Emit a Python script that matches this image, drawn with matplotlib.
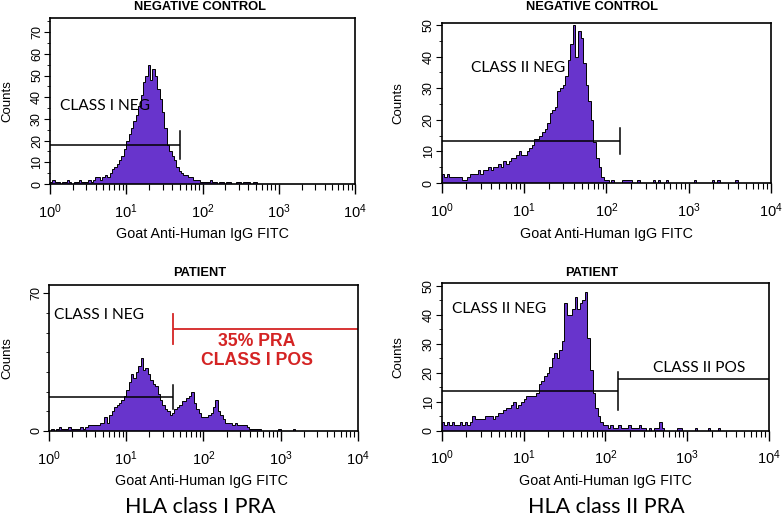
import numpy as np
import matplotlib
matplotlib.use("Agg")
import matplotlib.pyplot as plt
from matplotlib.ticker import LogLocator, MultipleLocator, FixedLocator

plt.rcParams["font.family"] = "Liberation Sans"
plt.rcParams["mathtext.fontset"] = "custom"
plt.rcParams["mathtext.rm"] = "Liberation Sans"
plt.rcParams["mathtext.it"] = "Liberation Sans:italic"

# === Données (comptes par canal, 32 canaux par décade, 10^0 -> 10^4) ===
neg_class1 = [1, 2, 1, 1, 0, 1, 1, 2, 1, 0, 1, 1, 2, 1, 1, 1,
              2, 1, 2, 3, 3, 2, 3, 4, 3, 5, 7, 8, 9, 11, 13, 16,
              20, 23, 26, 29, 32, 36, 41, 47, 50, 55, 48, 53, 50, 44, 39, 33,
              26, 18, 15, 13, 11, 8, 6, 5, 4, 4, 3, 3, 2, 2, 2, 1,
              1, 1, 1, 2, 1, 1, 0, 1, 1, 0, 1, 1, 0, 0, 1, 1,
              0, 1, 1, 1, 0, 1, 1, 0, 0, 0, 0, 0, 0, 0, 0, 0,
              0, 0, 0, 0, 0, 0, 0, 0, 0, 0, 0, 0, 0, 0, 0, 0,
              0, 0, 0, 0, 0, 0, 0, 0, 0, 0, 0, 0, 0, 0, 0, 0]

neg_class2 = [3, 2, 3, 2, 2, 2, 2, 2, 1, 1, 2, 3, 3, 3, 4, 3,
              4, 4, 5, 4, 5, 5, 6, 5, 7, 6, 7, 8, 8, 9, 10, 9,
              9, 10, 11, 12, 14, 14, 15, 16, 17, 19, 22, 23, 24, 29, 30, 31,
              34, 39, 44, 50, 40, 48, 46, 38, 31, 26, 20, 13, 8, 5, 2, 1,
              1, 0, 1, 0, 0, 0, 1, 1, 1, 1, 0, 0, 1, 0, 0, 0,
              0, 0, 1, 0, 1, 0, 0, 1, 0, 0, 0, 0, 0, 0, 0, 0,
              0, 0, 1, 0, 0, 0, 0, 0, 0, 1, 0, 1, 0, 0, 0, 0,
              0, 0, 1, 0, 0, 0, 0, 0, 0, 0, 0, 0, 0, 0, 0, 0]

pat_class1 = [0, 1, 0, 1, 2, 1, 1, 1, 2, 1, 1, 1, 1, 2, 1, 2,
              3, 3, 3, 3, 3, 4, 4, 7, 4, 8, 10, 12, 13, 14, 16, 18,
              21, 25, 29, 27, 30, 33, 37, 31, 32, 29, 26, 24, 23, 19, 16, 13,
              11, 10, 8, 9, 11, 12, 13, 15, 15, 17, 18, 20, 14, 11, 9, 7,
              7, 7, 8, 9, 12, 16, 10, 8, 6, 4, 4, 4, 3, 4, 3, 3,
              3, 3, 2, 1, 1, 1, 1, 1, 0, 0, 0, 0, 0, 0, 0, 1,
              0, 0, 0, 0, 0, 1, 0, 0, 0, 0, 0, 0, 0, 0, 0, 0,
              0, 0, 0, 0, 0, 0, 0, 0, 0, 0, 0, 0, 0, 0, 0, 0]

pat_class2 = [3, 2, 3, 2, 3, 2, 2, 3, 2, 3, 2, 3, 5, 4, 4, 4,
              4, 5, 5, 5, 4, 5, 6, 6, 7, 8, 8, 9, 10, 8, 9, 10,
              11, 12, 12, 12, 12, 13, 16, 17, 19, 20, 22, 25, 27, 25, 28, 31,
              44, 40, 40, 42, 46, 42, 44, 45, 48, 32, 21, 13, 8, 5, 3, 2,
              2, 1, 2, 1, 1, 2, 1, 1, 1, 2, 1, 1, 1, 2, 1, 1,
              0, 1, 0, 1, 1, 3, 1, 0, 0, 0, 0, 0, 1, 1, 0, 0,
              0, 0, 0, 1, 0, 0, 0, 0, 1, 0, 0, 0, 1, 0, 0, 0,
              0, 0, 0, 0, 0, 0, 0, 0, 0, 0, 0, 0, 0, 0, 0, 0]

# Portes (marqueurs) : x début, x fin, hauteur, demi-hauteur du trait vertical
gate_neg1 = (1, 50, 17.8, 6.4)
gate_neg2 = (1, 145, 13.3, 4.2)
gate_pat1 = (1, 41, 17.3, 6.2)
gate_pat1_pos = (41, 1e4, 51.8, 7.6)
gate_pat2 = (1, 141, 13.7, 6.6)
gate_pat2_pos = (141, 1e4, 17.8, 0)

violet = "#6834cc"
rouge = "#d42424"
aretes = np.logspace(0, 4, 129)

fig = plt.figure(figsize=(7.82, 5.18), dpi=100)
W, H = 782, 518


def axe(gauche, haut, droite, bas):
    return fig.add_axes([gauche / W, 1 - bas / H, (droite - gauche) / W, (bas - haut) / H])


def preparer(ax, comptes, ymax, yticks, ymin_step, xlab_y):
    ax.stairs(comptes, aretes, fill=True, facecolor=violet, edgecolor="black", linewidth=0.7)
    ax.set_xscale("log")
    ax.set_xlim(1, 1e4)
    ax.set_ylim(0, ymax)
    ax.xaxis.set_major_locator(LogLocator(base=10, numticks=10))
    ax.xaxis.set_minor_locator(LogLocator(base=10, subs=np.arange(2, 10), numticks=10))
    ax.yaxis.set_major_locator(FixedLocator(yticks))
    ax.yaxis.set_minor_locator(MultipleLocator(ymin_step))
    ax.tick_params(axis="x", which="major", direction="out", length=7, width=1, pad=6, labelsize=10.5)
    ax.tick_params(axis="x", which="minor", direction="out", length=4, width=0.8)
    ax.tick_params(axis="y", which="major", direction="out", length=4, width=0.8, pad=1, labelsize=9)
    ax.tick_params(axis="y", which="minor", direction="out", length=2, width=0.6)
    for lab in ax.get_yticklabels():
        lab.set_rotation(90)
        lab.set_va("center")
    for s in ax.spines.values():
        s.set_linewidth(1.2)
    ax.set_ylabel("Counts", fontsize=9.5)
    ax.yaxis.set_label_coords(ylab_x, 0.5)


def porte(ax, g, couleur="black"):
    x0, x1, y, dh = g
    lw = 1.3 if couleur != "black" else 1.1
    ax.plot([x0, x1], [y, y], color=couleur, lw=lw, solid_capstyle="butt")
    if dh:
        xv = x1 if x0 == 1 else x0
        ax.plot([xv, xv], [y - dh, y + dh], color=couleur, lw=lw)


lab_kw = dict(family="Lato", fontsize=11.2, va="center", ha="left")

# Panneau 1
ylab_x = -0.121
ax1 = axe(50, 18, 355, 184)
preparer(ax1, neg_class1, 76.5, list(range(0, 71, 10)), 5, 234)
porte(ax1, gate_neg1)
ax1.text(1.35, 36, "CLASS I NEG", **lab_kw)

# Panneau 2
ylab_x = -0.114
ax2 = axe(441.7, 22.7, 771, 183)
preparer(ax2, neg_class2, 50.7, list(range(0, 51, 10)), 5, 234)
porte(ax2, gate_neg2)
ax2.text(2.3, 36.4, "CLASS II NEG", **lab_kw)

# Panneau 3
ylab_x = -0.117
ax3 = axe(49, 285, 357.7, 431)
preparer(ax3, pat_class1, 74.2, [0, 70], 10, 481)
porte(ax3, gate_pat1)
porte(ax3, gate_pat1_pos, rouge)
ax3.text(1.16, 59, "CLASS I NEG", **lab_kw)
ax3.text(490, 45.3, "35% PRA", color=rouge, fontsize=12.7, fontweight="bold", ha="center", va="center")
ax3.text(490, 36, "CLASS I POS", color=rouge, fontsize=12.7, fontweight="bold", ha="center", va="center")

# Panneau 4
ylab_x = -0.115
ax4 = axe(441.7, 283.3, 769, 430.7)
preparer(ax4, pat_class2, 50.9, list(range(0, 51, 10)), 5, 481)
porte(ax4, gate_pat2)
porte(ax4, gate_pat2_pos)
ax4.text(1.34, 42, "CLASS II NEG", **lab_kw)
ax4.text(1413, 21.6, "CLASS II POS", family="Lato", fontsize=11.2, ha="center", va="center")

# Titres et légendes d'axe x
for (x, y, t) in [(200, 7, "NEGATIVE CONTROL"), (592, 7, "NEGATIVE CONTROL"),
                  (200, 273, "PATIENT"), (592, 273, "PATIENT")]:
    fig.text(x / W, 1 - y / H, t, fontsize=9.3, fontweight="bold", ha="center", va="center")

for (x, y) in [(202, 234), (606, 234), (201, 481), (605, 481)]:
    fig.text(x / W, 1 - y / H, "Goat Anti-Human IgG FITC", fontsize=10.3, ha="center", va="center")

fig.text(200 / W, 1 - 507 / H, "HLA class I PRA", family="Lato", fontsize=15.5, ha="center", va="center")
fig.text(606 / W, 1 - 507 / H, "HLA class II PRA", family="Lato", fontsize=15.5, ha="center", va="center")

fig.savefig("out.png", dpi=100)
